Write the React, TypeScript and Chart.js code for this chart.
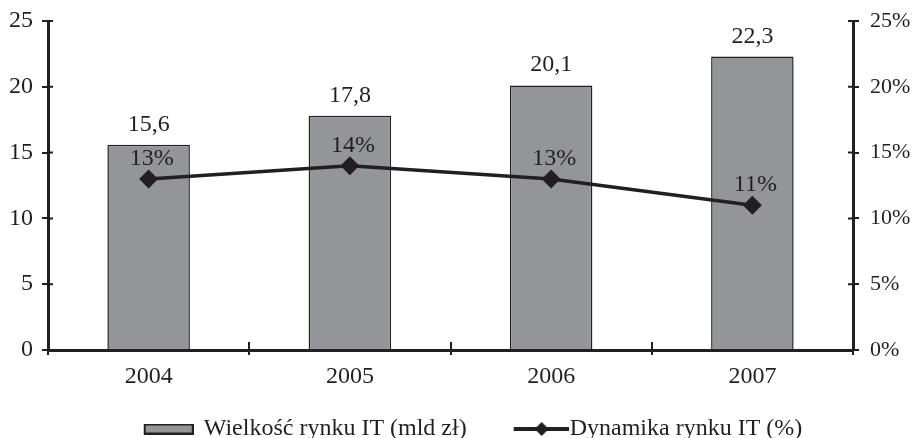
import React, { useEffect, useRef } from "react";
import { Chart, registerables } from "chart.js";

Chart.register(...registerables);

const categories = ["2004", "2005", "2006", "2007"];
const marketSize = [15.6, 17.8, 20.1, 22.3];
const marketGrowth = [13, 14, 13, 11];
const barLabel = "Wielkość rynku IT (mld zł)";
const lineLabel = "Dynamika rynku IT (%)";

const INK = "#231f20";
const GRAY = "#939598";
const FONT = "'Liberation Serif', 'DejaVu Serif', serif";
const FS = 24;

const BW = 88;
const PL = -5;
const PR = 5;

function makeBarIcon() {
  const c = document.createElement("canvas");
  c.width = BW + 4;
  c.height = 11;
  const g = c.getContext("2d")!;
  g.fillStyle = GRAY;
  g.strokeStyle = INK;
  g.lineWidth = 2;
  g.fillRect(c.width - 50, 1, 49, 9);
  g.strokeRect(c.width - 49, 1, 48, 9);
  return c;
}

function makeLineIcon() {
  const c = document.createElement("canvas");
  c.width = BW + 22;
  c.height = 16;
  const g = c.getContext("2d")!;
  const x0 = c.width - 55;
  g.strokeStyle = INK;
  g.lineWidth = 4;
  g.beginPath();
  g.moveTo(x0, 8);
  g.lineTo(c.width, 8);
  g.stroke();
  const cx = x0 + 28;
  g.fillStyle = INK;
  g.beginPath();
  g.moveTo(cx, 1);
  g.lineTo(cx + 7, 8);
  g.lineTo(cx, 15);
  g.lineTo(cx - 7, 8);
  g.closePath();
  g.fill();
  return c;
}

const valueLabels = {
  id: "valueLabels",
  afterDatasetsDraw(chart: any) {
    const ctx = chart.ctx;
    ctx.save();
    ctx.font = `${FS}px ${FONT}`;
    ctx.fillStyle = INK;
    ctx.textAlign = "center";
    ctx.textBaseline = "alphabetic";
    chart.data.datasets.forEach((ds: any, di: number) => {
      const meta = chart.getDatasetMeta(di);
      meta.data.forEach((el: any, i: number) => {
        const v = ds.data[i];
        if (ds.type === "bar") {
          ctx.fillText(String(v).replace(".", ","), el.x, el.y - 14);
        } else {
          ctx.fillText(`${v}%`, el.x + 3, el.y - 14);
        }
      });
    });
    ctx.restore();
  },
};

const innerTicks = {
  id: "innerTicks",
  afterDatasetsDraw(chart: any) {
    const ctx = chart.ctx;
    const { x, y, y1 } = chart.scales;
    ctx.save();
    ctx.strokeStyle = INK;
    ctx.lineWidth = 2;
    ctx.beginPath();
    for (let i = 1; i < categories.length; i++) {
      const px = Math.round((x.getPixelForValue(i - 1) + x.getPixelForValue(i)) / 2);
      ctx.moveTo(px, x.top - 8);
      ctx.lineTo(px, x.top);
    }
    y.ticks.forEach((t: any) => {
      const py = y.getPixelForValue(t.value);
      ctx.moveTo(y.right, py);
      ctx.lineTo(y.right + 5, py);
    });
    y1.ticks.forEach((t: any) => {
      const py = y1.getPixelForValue(t.value);
      ctx.moveTo(y1.left, py);
      ctx.lineTo(y1.left - 5, py);
    });
    ctx.stroke();
    ctx.restore();
  },
};

export default function App() {
  const ref = useRef<HTMLCanvasElement>(null);
  useEffect(() => {
    if (!ref.current) return;
    const barIcon = makeBarIcon();
    const lineIcon = makeLineIcon();
    const chart = new Chart(ref.current, {
      type: "bar",
      data: {
        labels: categories,
        datasets: [
          {
            type: "line",
            label: lineLabel,
            data: marketGrowth,
            yAxisID: "y1",
            borderColor: INK,
            backgroundColor: INK,
            borderWidth: 3.5,
            pointStyle: "rectRot",
            pointRadius: 7,
            pointBackgroundColor: INK,
            pointBorderColor: INK,
            order: 0,
          } as any,
          {
            type: "bar",
            label: barLabel,
            data: marketSize,
            yAxisID: "y",
            backgroundColor: GRAY,
            borderColor: INK,
            borderWidth: 1.5,
            barPercentage: 0.41,
            categoryPercentage: 1,
            order: 1,
          } as any,
        ],
      },
      options: {
        animation: false,
        responsive: true,
        maintainAspectRatio: false,
        layout: { padding: { top: 21, left: PL, right: PR, bottom: -13 } },
        plugins: {
          tooltip: { enabled: false },
          legend: {
            position: "bottom",
            labels: {
              usePointStyle: true,
              pointStyleWidth: BW,
              boxHeight: 10,
              padding: 3,
              color: INK,
              font: { family: FONT, size: FS },
              generateLabels: () => [
                { text: barLabel, pointStyle: barIcon as any, fillStyle: GRAY, strokeStyle: INK, lineWidth: 0, datasetIndex: 1, fontColor: INK } as any,
                { text: lineLabel, pointStyle: lineIcon as any, fillStyle: INK, strokeStyle: INK, lineWidth: 0, datasetIndex: 0, fontColor: INK } as any,
              ],
            },
          },
        },
        scales: {
          x: {
            offset: true,
            grid: { display: true, offset: true, drawOnChartArea: false, drawTicks: true, tickLength: 5, color: INK, lineWidth: 2 },
            border: { display: true, color: INK, width: 3 },
            ticks: { color: INK, font: { family: FONT, size: FS }, padding: 7 },
            afterFit: (s: any) => { s.height = 64; s.paddingLeft = 0; s.paddingRight = 0; },
          },
          y: {
            position: "left",
            min: 0,
            max: 25,
            ticks: { stepSize: 5, color: INK, font: { family: FONT, size: FS }, padding: 9 },
            grid: { display: true, drawOnChartArea: false, drawTicks: true, tickLength: 6, color: INK, lineWidth: 2 },
            border: { display: true, color: INK, width: 3 },
            afterFit: (s: any) => { s.width = 48 - PL; s.paddingTop = 0; s.paddingBottom = 0; },
          },
          y1: {
            position: "right",
            min: 0,
            max: 25,
            ticks: { stepSize: 5, color: INK, font: { family: FONT, size: 22 }, padding: 11, callback: (v: any) => `${v}%` },
            grid: { display: true, drawOnChartArea: false, drawTicks: true, tickLength: 6, color: INK, lineWidth: 2 },
            border: { display: true, color: INK, width: 3 },
            afterFit: (s: any) => { s.width = 916 - PR - 853; s.paddingTop = 0; s.paddingBottom = 0; },
          },
        },
      },
      plugins: [valueLabels, innerTicks],
    });
    return () => chart.destroy();
  }, []);
  return (
    <div style={{ position: "fixed", left: 0, top: 0, width: 916, height: 438, background: "#fff" }}>
      <canvas ref={ref} />
    </div>
  );
}
